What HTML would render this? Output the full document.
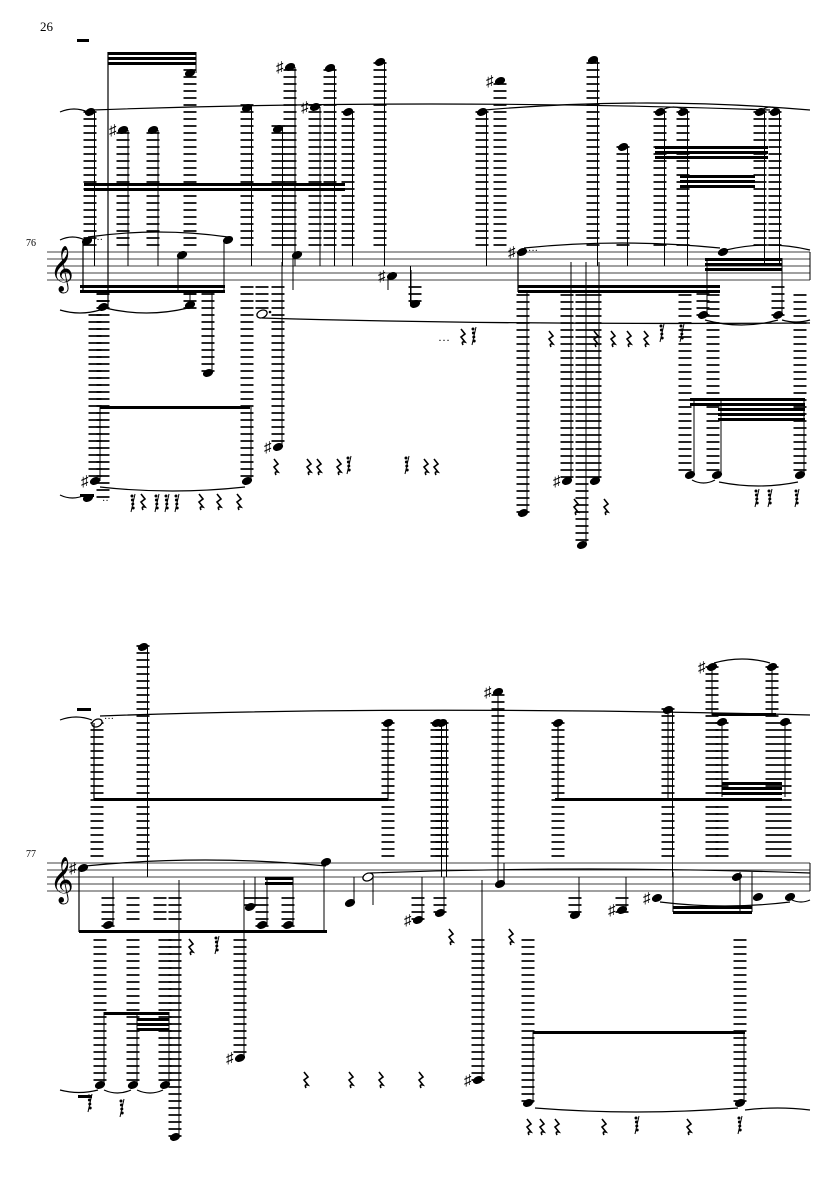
<!DOCTYPE html>
<html><head><meta charset="utf-8"><style>
html,body{margin:0;padding:0;background:#fff;width:835px;height:1181px;overflow:hidden}
svg{display:block}
text{font-family:"Liberation Serif",serif}
</style></head><body>
<svg id="s" width="835" height="1181" viewBox="0 0 835 1181" xmlns="http://www.w3.org/2000/svg">
<text x="40" y="31" font-size="13">26</text>
<text x="26" y="246" font-size="10">76</text>
<text x="26" y="857" font-size="10">77</text>
<text x="50" y="282" font-size="40">𝄞</text>
<text x="50" y="893" font-size="40">𝄞</text>
<text x="438" y="341" font-size="12">…</text>
</svg>
<script>
var s=document.getElementById('s'),h='';
function ln(x1,y1,x2,y2,w){h+='<line x1="'+x1+'" y1="'+y1+'" x2="'+x2+'" y2="'+y2+'" stroke="#000" stroke-width="'+(w||1)+'"/>';}
function rc(x,y,w,hh){h+='<rect x="'+x+'" y="'+y+'" width="'+w+'" height="'+hh+'" fill="#000"/>';}
function nh(x,y,open){h+='<ellipse cx="'+x+'" cy="'+y+'" rx="5.3" ry="3.7" transform="rotate(-22 '+x+' '+y+')" '+(open?'fill="#fff" stroke="#000" stroke-width="1.3"':'fill="#000"')+'/>';}
function sh(x,y){h+='<text x="'+(x-14)+'" y="'+(y+5)+'" font-size="15">♯</text>';}
var S,LW=1.7,LH=6.5;
function staff(y){S=y;for(var i=0;i<5;i++)ln(47,y+7*i,810,y+7*i,0.8);ln(810,y,810,y+28,1);}
function up(x,y,stem,sharp){for(var yy=S-7;yy>=y-3;yy-=7)ln(x-LH,yy,x+LH,yy,LW);nh(x,y);if(stem!==0)ln(x+4.5,y,x+4.5,stem||S+14,1);if(sharp)sh(x,y);}
function dn(x,y,stem,sharp){for(var yy=S+35;yy<=y+3;yy+=7)ln(x-LH,yy,x+LH,yy,LW);nh(x,y);if(stem!==0)ln(x-4.5,y,x-4.5,stem||S+14,1);if(sharp)sh(x,y);}
function col(x,y1,y2){for(var yy=y1;yy<=y2;yy+=7)ln(x-LH,yy,x+LH,yy,LW);}
function bm(x1,x2,y,n){for(var i=0;i<n;i++)rc(x1,y+i*5,x2-x1,3);}
function tie(x1,x2,y,d){var m=(x1+x2)/2;h+='<path d="M'+x1+' '+y+' Q'+m+' '+(y+d)+' '+x2+' '+y+'" fill="none" stroke="#000" stroke-width="1.2"/>';}
function rest(x,y){h+='<path d="M'+(x-1)+' '+(y-6)+' l4 5 l-4 3 l4 5 q-4 -1 -2 3" fill="none" stroke="#000" stroke-width="1.6"/>';}
function r16(x,y){ln(x+4,y-6,x,y+12,1);for(var i=0;i<4;i++)h+='<circle cx="'+(x+1+i*0.4)+'" cy="'+(y-4+i*4)+'" r="1.5"/>';}

/* ===== SYSTEM 1 ===== */
staff(252);
rc(77,39,12,3);
bm(108,196,52,3);ln(108,52,108,307,1.2);
ln(196,52,196,73,1);
up(90,112,S+14);up(123,130,0,1);up(153,130,0);up(190,73,0);
up(247,108);up(278,129);up(290,67,0,1);up(315,107,0,1);up(330,68);up(348,112);
up(380,62);up(482,112);up(500,81,0,1);up(593,60);up(623,147);
up(660,112);up(683,112);up(760,112);up(775,112);
ln(128,130,128,S+14);ln(158,130,158,S+14);ln(295,67,295,S+14);ln(320,107,320,S+14);
bm(84,345,183,2);
bm(655,768,146,3);bm(680,755,175,3);
tie(92,770,110,-12);tie(485,810,110,-14);tie(662,685,110,-6);tie(762,778,110,-6);tie(60,88,112,-6);
nh(87,241);h+='<text x="93" y="243" font-size="10">···</text>';
ln(83,241,83,292,1.2);bm(80,225,285,2);
nh(182,255);ln(178,255,178,290);nh(228,240);ln(224,240,224,290);
tie(88,228,237,-10);tie(60,85,240,-6);
nh(297,255);ln(293,255,293,290);
nh(392,276);sh(392,276);ln(388,276,388,290);
dn(415,304);ln(411,304,411,270);
nh(522,252);sh(522,252);h+='<text x="528" y="254" font-size="10">···</text>';
ln(518,252,518,292,1.2);bm(518,720,285,2);
tie(524,720,248,-10);
bm(705,782,258,3);nh(723,252);tie(726,810,250,-10);
col(103,287,500);dn(103,307,0);dn(190,305,0);col(190,287,300);
tie(60,100,310,6);tie(105,188,308,10);
ln(190,305,190,290);
col(208,287,373);nh(208,373);ln(212,373,212,290);
col(95,315,480);nh(95,481);sh(95,481);ln(100,407,100,481);
bm(100,250,406,1);col(247,287,481);nh(247,481);ln(251,407,251,481);
tie(100,245,487,8);
col(262,287,312);nh(262,314,true);h+='<circle cx="270" cy="312" r="1.3"/>';
col(278,287,447);nh(278,447);sh(278,447);ln(282,262,282,447);
h+='<path d="M262 318 Q500 325 810 323" fill="none" stroke="#000" stroke-width="1.3"/>';
col(523,295,513);nh(523,513);ln(527,292,527,513);
col(567,295,481);nh(567,481);sh(567,481);ln(571,262,571,481);
col(582,295,545);nh(582,545);ln(586,262,586,545);
col(595,295,481);nh(595,481);ln(599,262,599,481);
col(685,295,475);col(713,295,475);col(800,295,475);
dn(703,315,0);ln(707,258,707,315);dn(778,315,0);ln(782,258,782,315);
tie(705,778,320,10);tie(782,810,320,4);
nh(690,475);nh(717,475);nh(800,475);ln(694,398,694,475);ln(721,398,721,475);ln(804,398,804,475);
bm(690,805,398,2);bm(718,805,408,3);
tie(692,715,480,6);tie(719,798,482,8);
[[462,335],[550,337],[595,337],[612,337],[628,337],[645,337]].forEach(function(p){rest(p[0],p[1]);});
r16(472,333);r16(660,330);r16(680,330);
[[275,465],[308,465],[318,465],[338,465],[425,465],[435,465]].forEach(function(p){rest(p[0],p[1]);});
r16(347,462);r16(405,462);
rest(575,505);rest(605,505);
[[142,500],[238,500],[218,500],[200,500]].forEach(function(p){rest(p[0],p[1]);});
r16(131,500);r16(155,500);r16(165,500);r16(175,500);
r16(755,495);r16(768,495);r16(795,495);
rc(80,494,14,3);nh(88,498);h+='<text x="102" y="504" font-size="10">··</text>';
tie(60,85,495,6);

/* ===== SYSTEM 2 ===== */
staff(863);
rc(77,708,14,3);
up(97,723,0);nh(97,723,true);h+='<text x="104" y="722" font-size="10">···</text>';
ln(94,723,94,800,1.2);bm(94,388,798,1);
up(143,647);up(388,723,0);ln(388,723,388,800,1.2);up(437,723,S+14);
up(442,723,S+14);up(498,692,0,1);ln(498,692,498,882);
up(558,723,0);ln(558,723,558,800,1.2);bm(555,668,798,1);
up(668,710);ln(668,710,668,800);bm(668,782,798,1);
up(712,667,0,1);up(772,667,0);ln(712,667,712,715);ln(772,667,772,715);bm(712,776,713,1);
up(722,722,0);up(785,722,0);ln(722,722,722,797);ln(785,722,785,797);
bm(722,782,782,3);
h+='<path d="M100 716 Q400 705 810 715" fill="none" stroke="#000" stroke-width="1.3"/>';
tie(714,770,663,-8);tie(60,92,720,-6);
nh(83,868);sh(83,868);ln(79,868,79,932,1.2);
tie(85,326,866,-12);nh(326,862);ln(324,862,324,932);
nh(368,877,true);ln(373,877,373,905);tie(370,810,873,-8);
dn(108,925,0);ln(113,925,113,877);col(133,898,925);col(160,898,925);col(175,898,925);
dn(250,907,0);ln(255,907,255,877);dn(262,925,0);ln(267,925,267,877);dn(288,925,0);ln(293,925,293,877);
bm(79,327,930,1);bm(265,293,877,2);
nh(350,903);ln(354,903,354,877);
dn(418,920,0,1);ln(422,920,422,877);dn(440,913,0);ln(444,913,444,877);
nh(500,884);ln(504,884,504,863);
dn(575,915,0);ln(579,915,579,877);dn(622,910,0,1);ln(626,910,626,877);
nh(657,898);sh(657,898);nh(737,877);nh(758,897);nh(790,897);
ln(673,872,673,912);ln(740,872,740,912);ln(752,872,752,912);bm(673,752,906,2);
tie(660,790,902,8);tie(792,810,900,4);
col(100,940,1085);col(133,940,1085);col(165,940,1085);
nh(100,1085);nh(133,1085);nh(165,1085);ln(104,1012,104,1085);ln(137,1012,137,1085);ln(169,1012,169,1085);
bm(104,169,1012,1);bm(137,169,1018,3);
tie(104,131,1090,6);tie(137,163,1090,6);tie(60,98,1090,5);
col(175,940,1137);nh(175,1137);ln(179,880,179,1137);
col(240,940,1058);nh(240,1058);sh(240,1058);ln(244,880,244,1058);
col(478,940,1080);nh(478,1080);sh(478,1080);ln(482,880,482,1080);
col(528,940,1103);nh(528,1103);ln(533,1032,533,1103);
col(740,940,1103);nh(740,1103);ln(744,1032,744,1103);
bm(533,745,1031,1);tie(535,738,1108,8);tie(745,810,1110,-4);
rc(78,1095,14,3);
[[305,1078],[350,1078],[380,1078],[420,1078],[190,945],[450,935],[510,935]].forEach(function(p){rest(p[0],p[1]);});
r16(215,942);r16(88,1100);r16(120,1105);
[[528,1125],[541,1125],[556,1125],[603,1125],[688,1125]].forEach(function(p){rest(p[0],p[1]);});
r16(635,1122);r16(738,1122);
s.insertAdjacentHTML('beforeend',h);
</script>
</body></html>
